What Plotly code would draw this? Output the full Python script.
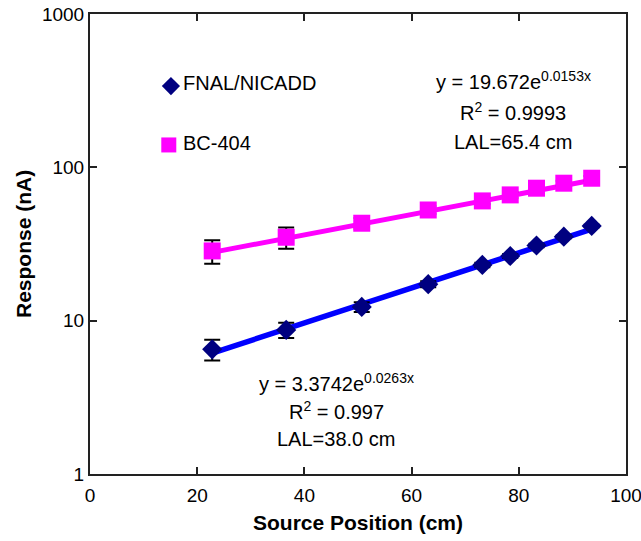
import numpy as np
import plotly.graph_objects as go

# ---- Data ----
positions = [22.8, 36.6, 50.7, 63.1, 73.2, 78.4, 83.3, 88.4, 93.6]          # Source Position (cm)
fnal_resp = [6.5, 8.7, 12.3, 17.3, 23.1, 26.4, 30.9, 35.3, 41.5]            # FNAL/NICADD response (nA)
fnal_err = [1.0, 1.0, 0.9, 0.8, 0.8, 0.8, 0.8, 0.8, 0.8]
bc_resp = [28.5, 35.0, 43.2, 52.7, 60.4, 66.1, 73.1, 78.8, 84.9]            # BC-404 response (nA)
bc_err = [5.0, 5.5, 3.5, 3.0, 3.0, 3.0, 3.0, 3.0, 3.0]

# Exponential fits printed on the chart: y = A * exp(k x)
fnal_fit = (3.3742, 0.0263)
bc_fit = (19.672, 0.0153)

x_ticks = [0, 20, 40, 60, 80, 100]
y_ticks = [1, 10, 100, 1000]
y_ticktext = ["1", "10", "100", "1000"]

FONT = "Liberation Sans, Arial, sans-serif"
FS = 20
TFS = 19

fig = go.Figure()

# Trend lines (evaluated from the printed fit equations over the data span)
xf = np.linspace(positions[0], positions[-1], 60)
fig.add_trace(go.Scatter(x=xf, y=bc_fit[0] * np.exp(bc_fit[1] * xf), mode="lines",
                         line=dict(color="#FF00FF", width=5), hoverinfo="skip", showlegend=False))
fig.add_trace(go.Scatter(x=xf, y=fnal_fit[0] * np.exp(fnal_fit[1] * xf), mode="lines",
                         line=dict(color="#0000FF", width=5.5), hoverinfo="skip", showlegend=False))

# Data points with error bars
fig.add_trace(go.Scatter(x=positions, y=bc_resp, mode="markers", name="BC-404",
                         marker=dict(symbol="square", size=17, color="#FF00FF"),
                         error_y=dict(type="data", array=bc_err, color="black", thickness=2, width=8),
                         showlegend=False))
fig.add_trace(go.Scatter(x=positions, y=fnal_resp, mode="markers", name="FNAL/NICADD",
                         marker=dict(symbol="diamond", size=15.5, color="#000080"),
                         error_y=dict(type="data", array=fnal_err, color="black", thickness=2, width=8),
                         showlegend=False))

# In-plot legend (markers + labels)
fig.add_trace(go.Scatter(x=[15.1], y=[10 ** 2.53], mode="markers", hoverinfo="skip", showlegend=False,
                         marker=dict(symbol="diamond", size=14, color="#000080")))
fig.add_trace(go.Scatter(x=[14.7], y=[10 ** 2.146], mode="markers", hoverinfo="skip", showlegend=False,
                         marker=dict(symbol="square", size=15, color="#FF00FF")))

ann = []
ann.append(dict(x=16.9, y=2.55, text="FNAL/NICADD", xanchor="left"))
ann.append(dict(x=16.9, y=2.156, text="BC-404", xanchor="left"))
for t, yy in [("y = 19.672e<sup>0.0153x</sup>", 2.565), ("R<sup>2</sup> = 0.9993", 2.365), ("LAL=65.4 cm", 2.165)]:
    ann.append(dict(x=79.0, y=yy, text=t, xanchor="center"))
for t, yy in [("y = 3.3742e<sup>0.0263x</sup>", 0.600), ("R<sup>2</sup> = 0.997", 0.415), ("LAL=38.0 cm", 0.228)]:
    ann.append(dict(x=45.9, y=yy, text=t, xanchor="center"))
for a in ann:
    a.update(xref="x", yref="y", showarrow=False, yanchor="middle",
             font=dict(family=FONT, size=FS, color="black"))

# Axis titles
ann.append(dict(xref="paper", yref="paper", x=0.5, y=-0.106, text="<b>Source Position (cm)</b>",
                showarrow=False, xanchor="center", yanchor="middle",
                font=dict(family=FONT, size=21, color="black")))
ann.append(dict(xref="paper", yref="paper", x=-0.125, y=0.5, text="<b>Response (nA)</b>", textangle=-90,
                showarrow=False, xanchor="center", yanchor="middle",
                font=dict(family=FONT, size=21, color="black")))

fig.update_layout(
    template="none",
    width=641, height=541,
    margin=dict(l=90, r=15, t=14, b=67),
    paper_bgcolor="white", plot_bgcolor="white",
    showlegend=False,
    annotations=ann,
    font=dict(family=FONT, size=FS, color="black"),
)
fig.update_xaxes(range=[0, 100], tickvals=x_ticks, ticks="inside", ticklen=7, tickwidth=1.5,
                 tickcolor="#222", showline=True, linecolor="#222", linewidth=2, mirror="allticks",
                 showgrid=False, zeroline=False, automargin=False, ticklabelstandoff=3,
                 ticklabeloverflow="allow",
                 tickfont=dict(family=FONT, size=TFS, color="black"))
fig.update_yaxes(type="log", range=[0, 3], tickvals=y_ticks, ticktext=y_ticktext,
                 ticksuffix="\u00a0",
                 ticks="inside", ticklen=7, tickwidth=1.5, tickcolor="#222", showline=True,
                 linecolor="#222", linewidth=2, mirror="allticks", showgrid=False, zeroline=False,
                 automargin=False, ticklabeloverflow="allow",
                 tickfont=dict(family=FONT, size=TFS, color="black"))

fig.write_html("out.html", config={"displayModeBar": False},
               post_script="document.body.style.margin='0';document.body.style.overflow='hidden';")
